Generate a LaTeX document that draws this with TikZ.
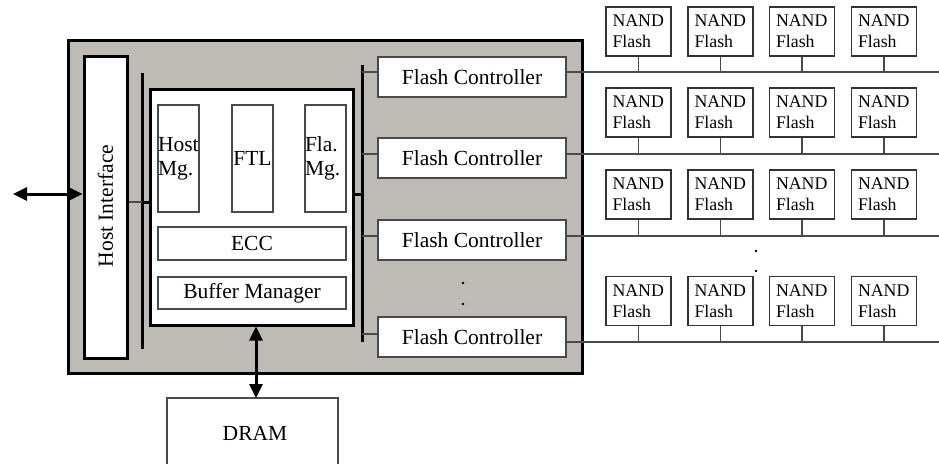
\documentclass[tikz,border=0pt]{standalone}
\usepackage{fontspec}
\setmainfont{Liberation Serif}
\usetikzlibrary{arrows.meta,calc}
\definecolor{boxgray}{HTML}{BEBAB6}
\definecolor{linegray}{HTML}{4A4A4A}
\begin{document}
\begin{tikzpicture}[x=1pt,y=-1pt,
  bigfont/.style={font=\fontsize{21.5}{24}\selectfont},
  smallfont/.style={font=\fontsize{17.8}{21}\selectfont},
  thickbox/.style={draw=black,line width=3pt,inner sep=0pt},
  thinbox/.style={draw=linegray,line width=1.1pt,fill=white,inner sep=0pt,bigfont},
  nand/.style={draw=black!80,line width=1.1pt,fill=white,inner sep=0pt,smallfont,
    minimum width=65pt,minimum height=49pt,text width=52pt,align=left},
  fc/.style={thinbox,minimum width=188pt,minimum height=40pt},
  thinline/.style={draw=linegray,line width=1.1pt},
  thickline/.style={draw=black,line width=3pt},
  dblarrow/.style={thickline,{Triangle[length=14pt,width=13pt]}-{Triangle[length=14pt,width=13pt]}},
  dotmark/.style={fill=black,circle,inner sep=0pt,minimum size=2.6pt}
]
\useasboundingbox (0,0) rectangle (939,463);
% outer box
\node[thickbox,fill=boxgray,minimum width=514pt,minimum height=333pt] (outer) at (325,206.5) {};
% host interface
\node[thickbox,fill=white,minimum width=43pt,minimum height=302pt] (hi) at (105.5,207) {};
\node[bigfont,rotate=90] (hitext) at (105.5,206) {Host Interface};
% inner box
\node[thickbox,fill=white,minimum width=203pt,minimum height=236pt] (inner) at (251.5,207) {};
\node[thinbox,minimum width=41pt,minimum height=107pt,text width=41pt,align=left] (hostmg) at (178.5,158.5) {Host\\Mg.};
\node[thinbox,minimum width=41pt,minimum height=107pt] (ftl) at (252.5,158.5) {FTL};
\node[thinbox,minimum width=41pt,minimum height=107pt,text width=41pt,align=left] (flamg) at (325.5,158.5) {Fla.\\Mg.};
\node[thinbox,minimum width=188pt,minimum height=33pt] (ecc) at (252,243.5) {ECC};
\node[thinbox,minimum width=188pt,minimum height=32pt] (buf) at (252,293) {Buffer Manager};
% buses
\coordinate (lbtop) at (142,73);
\coordinate (lbbot) at (142,349);
\draw[thickline] (lbtop) -- (lbbot);
\coordinate (rbtop) at (362,65);
\coordinate (rbbot) at (362,342);
\draw[thickline] (rbtop) -- (rbbot);
% host side connectors
\coordinate (hostext) at (13,194);
\draw[dblarrow] (hostext) -- (hostext -| hi.west);
\coordinate (hlink) at (142,202);
\draw[thinline] (hlink -| hi.east) -- (hlink);
\draw[thickline] (hlink) -- (hlink -| inner.west);
\coordinate (rlink) at (362,194);
\draw[thickline] (rlink -| inner.east) -- (rlink);
% flash controllers
\node[fc] (fc1) at (472,77) {Flash Controller};
\node[fc] (fc2) at (472,158) {Flash Controller};
\node[fc] (fc3) at (472,240) {Flash Controller};
\node[fc] (fc4) at (472,337) {Flash Controller};
\foreach \i/\ly in {1/72,2/154,3/236,4/334}{
  \coordinate (ltick\i) at (362,\ly);
  \draw[thinline] (ltick\i) -- (ltick\i -| fc\i.west);
}
\node[dotmark] (fcdot1) at (463,283) {};
\node[dotmark] (fcdot2) at (463,304) {};
% NAND rows
\foreach \r/\cy/\by in {1/31.5/72,2/112.5/154,3/194.5/236,4/301/342}{
  \coordinate (busend\r) at (939,\by);
  \draw[thinline] (fc\r.east |- busend\r) -- (busend\r);
  \foreach \c/\cx in {1/638.5,2/720.5,3/802,4/884}{
    \node[nand] (n\r\c) at (\cx,\cy) {NAND\\Flash};
    \draw[thinline] (n\r\c.south) -- (n\r\c.south |- busend\r);
  }
}
\node[dotmark] (ndot1) at (756,251) {};
\node[dotmark] (ndot2) at (756,271) {};
% DRAM
\node[thinbox,minimum width=171pt,minimum height=72pt] (dram) at (252.5,434) {};
\node[bigfont] (dramtext) at (255,433) {DRAM};
\draw[dblarrow] (256,398) coordinate (dtop) (dtop |- inner.south) -- (dtop);
\end{tikzpicture}
\end{document}
